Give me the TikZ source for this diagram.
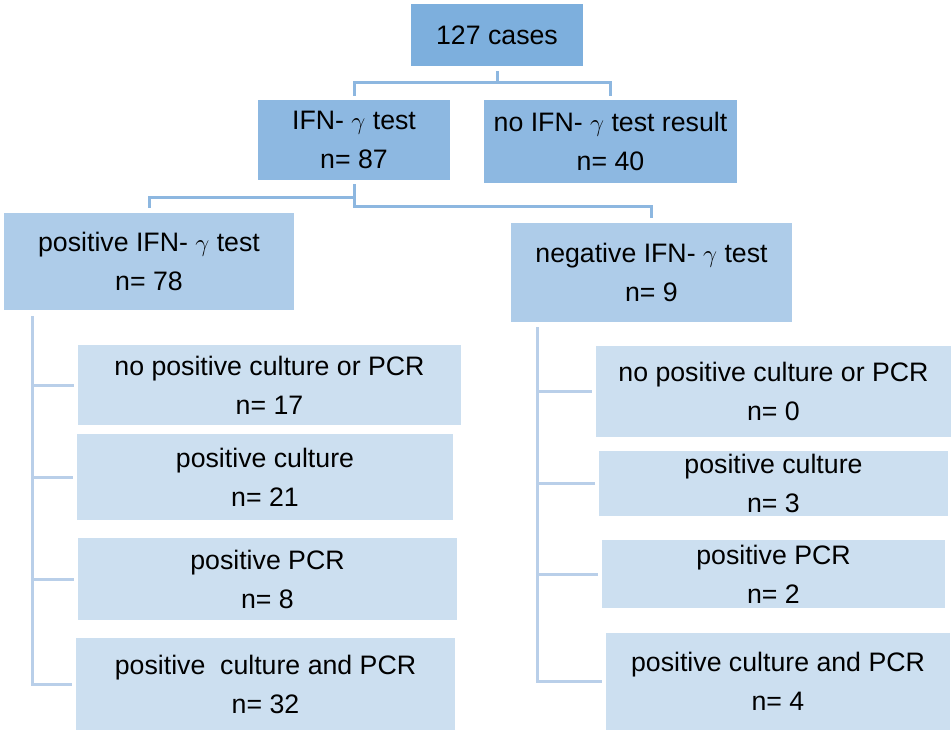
\documentclass[tikz,border=0pt]{standalone}
\usepackage{fontspec}
\setmainfont{Liberation Sans}
\usetikzlibrary{calc}
\definecolor{cA}{HTML}{7DAFDD}
\definecolor{cB}{HTML}{8DB8E1}
\definecolor{cC}{HTML}{AECCE9}
\definecolor{cD}{HTML}{CCDFF0}
\definecolor{lnA}{HTML}{8DB7E0}
\definecolor{lnB}{HTML}{B9CFE9}
\begin{document}
\begin{tikzpicture}[x=1pt,y=-1pt,
  bx/.style={rectangle, inner sep=0pt, outer sep=0pt, align=center,
    font=\fontsize{26.7}{39}\selectfont, text=black},
  lvA/.style={bx, fill=cA},
  lvB/.style={bx, fill=cB},
  lvC/.style={bx, fill=cC},
  lvD/.style={bx, fill=cD},
  connA/.style={draw=lnA, line width=3pt},
  connB/.style={draw=lnB, line width=3pt}]
\useasboundingbox (0,0) rectangle (951,731);

% level 1
\node[lvA, minimum width=172pt, minimum height=62pt] (top) at (497,35) {127 cases};
% level 2
\node[lvB, minimum width=192pt, minimum height=80pt] (ifn) at (354,140) {IFN- $\gamma$ test\\n= 87};
\node[lvB, minimum width=253pt, minimum height=83pt] (noifn) at (610.5,141.5) {no IFN- $\gamma$ test result\\n= 40};
% level 3
\node[lvC, minimum width=290pt, minimum height=97pt] (pos) at (149,261.5) {positive IFN- $\gamma$ test\\n= 78};
\node[lvC, minimum width=281pt, minimum height=99pt] (neg) at (651.5,272.5) {negative IFN- $\gamma$ test\\n= 9};
% level 4 left
\node[lvD, minimum width=383pt, minimum height=80pt] (L1) at (269.5,385) {no positive culture or PCR\\n= 17};
\node[lvD, minimum width=376pt, minimum height=86pt] (L2) at (265,477) {positive culture\\n= 21};
\node[lvD, minimum width=379pt, minimum height=82pt] (L3) at (267.5,579) {positive PCR\\n= 8};
\node[lvD, minimum width=379pt, minimum height=92pt] (L4) at (265.5,684) {positive\ \ culture and PCR\\n= 32};
% level 4 right
\node[lvD, minimum width=355pt, minimum height=91pt] (R1) at (773.5,391.5) {no positive culture or PCR\\n= 0};
\node[lvD, minimum width=349pt, minimum height=65pt] (R2) at (773.5,483.5) {positive culture\\n= 3};
\node[lvD, minimum width=343pt, minimum height=68pt] (R3) at (773.5,574) {positive PCR\\n= 2};
\node[lvD, minimum width=344pt, minimum height=97pt] (R4) at (778,681.5) {positive culture and PCR\\n= 4};

% connectors top
\draw[connA] ([yshift=-5pt]top.south) -- ++(0,-11pt) -| ([yshift=4pt]ifn.north);
\draw[connA] ([yshift=-5pt]top.south) -- ++(0,-11pt) -| ([yshift=4pt]noifn.north);
\draw[connA] ([yshift=-4pt]ifn.south) -- ++(0,-13pt) -| ([yshift=5pt]pos.north);
\draw[connA] ([yshift=-4pt]ifn.south) -- ++(0,-22pt) -| ([yshift=5pt]neg.north);

% left tree
\coordinate (tl) at ([xshift=28pt,yshift=-6pt]pos.south west);
\draw[connB] (tl) |- ([xshift=-4pt]L4.west);
\foreach \n in {L1,L2,L3} \draw[connB] (tl |- \n.west) -- ([xshift=-4pt]\n.west);
% right tree
\coordinate (tr) at ([xshift=26pt,yshift=-5pt]neg.south west);
\draw[connB] (tr) |- ([xshift=-4pt]R4.west);
\foreach \n in {R1,R2,R3} \draw[connB] (tr |- \n.west) -- ([xshift=-4pt]\n.west);
\end{tikzpicture}
\end{document}
